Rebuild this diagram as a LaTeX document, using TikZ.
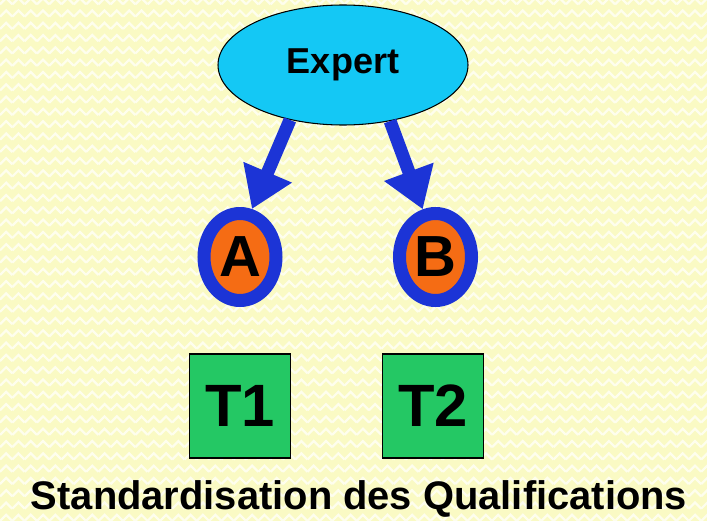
\documentclass[tikz,border=0pt]{standalone}
\usepackage{fontspec}
\setmainfont{Liberation Sans}
\usepackage{tikz}
\usetikzlibrary{arrows.meta,shapes,positioning,patterns}
\usepackage{xcolor}
\definecolor{dfyellow}{RGB}{250,250,196}
\definecolor{dfcyan}{RGB}{20,200,245}
\definecolor{dfblue}{RGB}{28,52,214}
\definecolor{dforange}{RGB}{245,108,20}
\definecolor{dfgreen}{RGB}{36,200,100}
% light chevron weave for the paper
\pgfdeclarepatternformonly{weave}{\pgfqpoint{-1pt}{-1pt}}{\pgfqpoint{8pt}{8pt}}{\pgfqpoint{7pt}{7pt}}{
  \pgfsetlinewidth{1.3pt}
  \pgfpathmoveto{\pgfqpoint{0pt}{0pt}}
  \pgfpathlineto{\pgfqpoint{3.5pt}{3.5pt}}
  \pgfpathlineto{\pgfqpoint{7pt}{0pt}}
  \pgfusepath{stroke}
}
\tikzstyle{arrow} = [line width=0.26cm,-{Triangle[length=0.8cm,width=1.0cm]},color=dfblue]
\tikzstyle{expertbox} = [ellipse, minimum width=5cm, minimum height=2.4cm, inner sep=0pt, draw=black, line width=0.6pt, fill=dfcyan, font=\fontsize{20.5}{24}\selectfont\bfseries]
\tikzstyle{person} = [ellipse, minimum width=1.44cm, minimum height=1.74cm, inner sep=0pt, draw=dfblue, line width=0.26cm, fill=dforange, font=\fontsize{33}{38}\selectfont\bfseries]
\tikzstyle{task} = [rectangle, minimum width=2.02cm, minimum height=2.08cm, draw=black, line width=0.6pt, fill=dfgreen, font=\fontsize{34}{40}\selectfont\bfseries]

\begin{document}
\begin{tikzpicture}
% Paper
\useasboundingbox (0,0) rectangle (14.14,-10.42);
\fill[dfyellow] (0,0) rectangle (14.14,-10.42);
\fill[pattern=weave, pattern color=white!70!dfyellow] (0,0) rectangle (14.14,-10.42);

% Expert and the two people
\node (expert) [expertbox] at (6.86,-1.30) {Expert};
\node (a) [person, below of=expert, node distance=3.84cm, xshift=-2.06cm] {A};
\node (b) [person, below of=expert, node distance=3.84cm, xshift=1.85cm] {B};

% Arrows
\draw[arrow] (expert.226) -- (a.76);
\draw[arrow] (expert.310) -- (b.105);

% Tasks
\node (t1) [task, below of=a, node distance=2.98cm] {T1};
\node (t2) [task, below of=b, node distance=2.98cm, xshift=-0.05cm] {T2};

\node (title) [anchor=base, font=\fontsize{22.7}{27}\selectfont\bfseries] at (7.18,-10.18) {Standardisation des Qualifications};
\end{tikzpicture}
\end{document}
